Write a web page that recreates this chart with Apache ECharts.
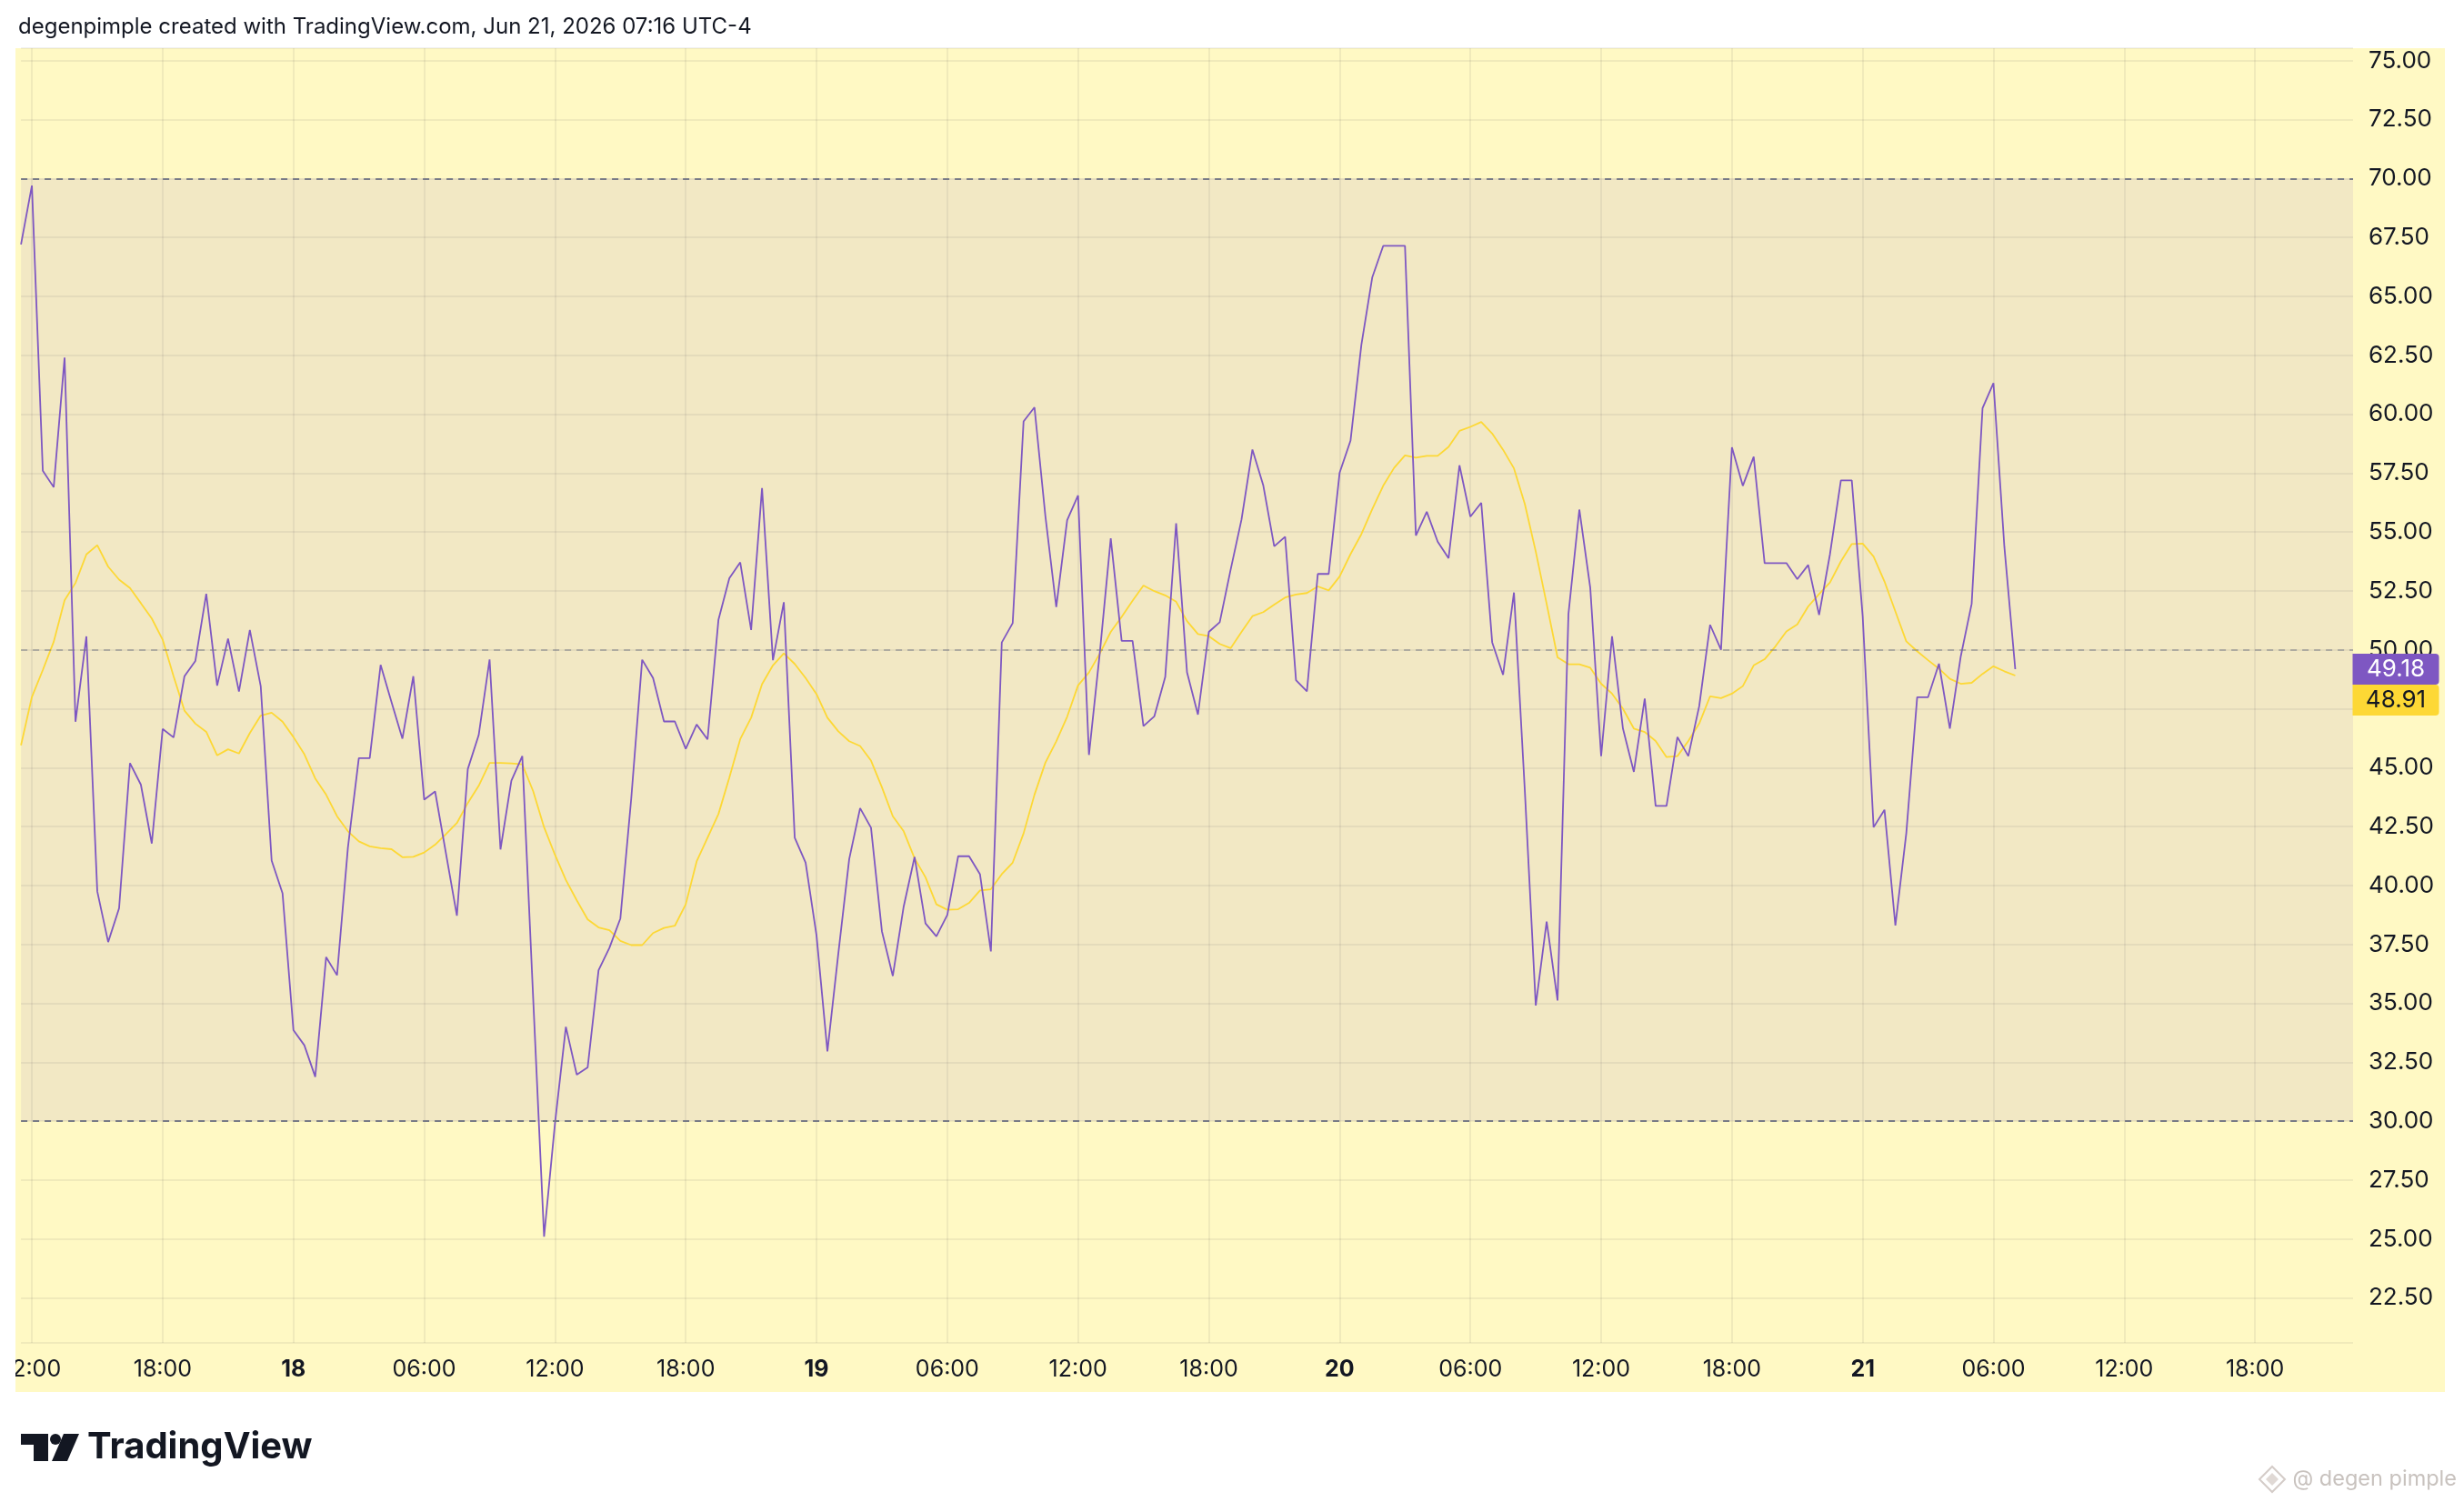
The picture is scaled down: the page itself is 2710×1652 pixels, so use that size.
<!DOCTYPE html>
<html>
<head>
<meta charset="utf-8">
<title>RSI 30m</title>
<script src="https://cdn.jsdelivr.net/npm/echarts@6/dist/echarts.min.js"></script>
<style>
  html, body { margin: 0; padding: 0; background: #fff; }
  #chart { width: 2710px; height: 1652px; }
</style>
</head>
<body>
<div id="chart"></div>
<script>
// 30 minute bars, first bar Jun 17 11:30
const startTime = Date.UTC(2026, 5, 17, 11, 30);
const slotCount = 215; // visible slots on the time scale (right side is empty space)

// RSI values, one per bar
const rsi = [
  67.2, 69.7, 57.6, 56.9, 62.4, 46.95, 50.57, 39.75, 37.6, 39.03,
  45.19, 44.28, 41.78, 46.64, 46.28, 48.88, 49.53, 52.38, 48.48, 50.47,
  48.23, 50.84, 48.45, 41.06, 39.67, 33.86, 33.22, 31.88, 36.96, 36.19,
  41.61, 45.4, 45.4, 49.36, 47.78, 46.23, 48.88, 43.64, 43.99, 41.35,
  38.72, 44.94, 46.38, 49.59, 41.53, 44.45, 45.49, 35.2, 25.1, 29.9,
  34.0, 31.97, 32.28, 36.4, 37.36, 38.6, 43.7, 49.58, 48.8, 46.96,
  46.96, 45.8, 46.83, 46.2, 51.27, 53.04, 53.71, 50.84, 56.86, 49.56,
  52.02, 42.03, 40.97, 37.88, 32.96, 37.11, 41.12, 43.28, 42.45, 38.06,
  36.16, 39.11, 41.21, 38.39, 37.84, 38.75, 41.24, 41.24, 40.48, 37.2,
  50.31, 51.13, 59.69, 60.29, 55.68, 51.82, 55.5, 56.55, 45.54, 49.89,
  54.73, 50.38, 50.38, 46.76, 47.18, 48.85, 55.37, 49.04, 47.25, 50.76,
  51.17, 53.4, 55.53, 58.5, 56.97, 54.39, 54.8, 48.71, 48.24, 53.22,
  53.22, 57.51, 58.87, 62.95, 65.81, 67.14, 67.14, 67.14, 54.85, 55.86,
  54.59, 53.89, 57.83, 55.65, 56.24, 50.32, 48.94, 52.43, 44.0, 34.91,
  38.47, 35.12, 51.52, 55.95, 52.64, 45.49, 50.57, 46.66, 44.82, 47.93,
  43.38, 43.38, 46.3, 45.49, 47.61, 51.06, 50.0, 58.59, 56.96, 58.19,
  53.68, 53.68, 53.68, 53.0, 53.6, 51.48, 54.06, 57.19, 57.19, 51.42,
  42.47, 43.21, 38.3, 42.21, 47.99, 47.99, 49.41, 46.66, 49.72, 51.95,
  60.26, 61.32, 54.38, 49.18
];

// RSI-based moving average, one per bar
const rsiMa = [
  45.95, 48.0, 49.14, 50.34, 52.1, 52.84, 54.05, 54.44, 53.53, 52.98,
  52.62, 51.98, 51.33, 50.43, 48.88, 47.42, 46.87, 46.52, 45.52, 45.78,
  45.6, 46.47, 47.21, 47.33, 46.95, 46.3, 45.57, 44.54, 43.85, 42.94,
  42.3, 41.87, 41.66, 41.58, 41.54, 41.2, 41.22, 41.4, 41.73, 42.18,
  42.65, 43.5, 44.23, 45.2, 45.2, 45.18, 45.14, 44.0, 42.47, 41.3,
  40.23, 39.37, 38.56, 38.22, 38.1, 37.65, 37.47, 37.47, 37.98, 38.2,
  38.29, 39.2, 41.02, 42.03, 43.03, 44.58, 46.21, 47.12, 48.54, 49.34,
  49.85, 49.4, 48.8, 48.12, 47.12, 46.54, 46.12, 45.92, 45.3, 44.17,
  42.94, 42.3, 41.15, 40.35, 39.2, 38.97, 38.99, 39.26, 39.79, 39.84,
  40.48, 40.97, 42.21, 43.85, 45.21, 46.12, 47.16, 48.49, 49.04, 49.85,
  50.76, 51.4, 52.08, 52.73, 52.49, 52.31, 52.04, 51.22, 50.67, 50.58,
  50.25, 50.07, 50.76, 51.43, 51.6, 51.92, 52.22, 52.35, 52.41, 52.69,
  52.52, 53.11, 54.06, 54.91, 55.97, 56.96, 57.72, 58.25, 58.15, 58.23,
  58.23, 58.61, 59.29, 59.46, 59.67, 59.18, 58.49, 57.7, 56.18, 54.17,
  51.95, 49.68, 49.39, 49.39, 49.24, 48.56, 48.14, 47.5, 46.66, 46.51,
  46.13, 45.45, 45.49, 46.13, 46.87, 48.03, 47.95, 48.14, 48.46, 49.34,
  49.6, 50.15, 50.78, 51.08, 51.84, 52.37, 52.86, 53.75, 54.49, 54.51,
  53.96, 52.9, 51.63, 50.36, 49.94, 49.56, 49.2, 48.77, 48.56, 48.6,
  48.98, 49.3, 49.09, 48.91
];

const bandLevels = [30, 70];
const midLevel = 50;

const pad = n => String(n).padStart(2, '0');
const timeLabels = [];
for (let i = 0; i < slotCount; i++) {
  const d = new Date(startTime + i * 30 * 60000);
  const h = d.getUTCHours(), m = d.getUTCMinutes();
  timeLabels.push(h === 0 && m === 0 ? String(d.getUTCDate()) : pad(h) + ':' + pad(m));
}
// a label / grid line every 6 hours: 12:00, 18:00, day, 06:00 ...
const isSixHour = idx => idx % 12 === 1;

const txt = '#131722';
const gridColor = 'rgba(42,46,57,0.07)';
const purple = '#7E57C2';
const yellow = '#FDD835';
const font = 'Inter';
// price tag on the scale: square left side, rounded right corners
const tagPath = 'path://M0,0 L91,0 Q95,0 95,4 L95,30 Q95,34 91,34 L0,34 Z';

const chart = echarts.init(document.getElementById('chart'));
const lastRsi = rsi[rsi.length - 1];
const lastMa = rsiMa[rsiMa.length - 1];

chart.setOption({
  animation: false,
  backgroundColor: '#ffffff',
  title: {
    text: 'degenpimple created with TradingView.com, Jun 21, 2026 07:16 UTC-4',
    left: 20, top: 18, padding: 0,
    textStyle: { fontFamily: font, fontSize: 24, fontWeight: 'normal', color: txt }
  },
  graphic: [
    // pane background, behind everything
    { type: 'rect', z: -10, silent: true, shape: { x: 17, y: 53, width: 2672, height: 1478 }, style: { fill: '#FFF9C4' } },
    // clip the first time label at the pane edge
    { type: 'rect', z: 100, silent: true, shape: { x: 0, y: 1480, width: 17, height: 60 }, style: { fill: '#ffffff' } },
    // TradingView logo
    { type: 'polygon', z: 100, silent: true, shape: { points: [[23, 1577], [53, 1577], [53, 1607], [37, 1607], [37, 1589], [23, 1589]] }, style: { fill: txt } },
    { type: 'circle', z: 100, silent: true, shape: { cx: 61, cy: 1583, r: 6 }, style: { fill: txt } },
    { type: 'polygon', z: 100, silent: true, shape: { points: [[70, 1577], [87, 1577], [74, 1607], [57, 1607]] }, style: { fill: txt } },
    { type: 'text', z: 100, silent: true, x: 96, y: 1592, style: { text: 'TradingView', fontFamily: font, fontWeight: 'bold', fontSize: 40, fill: txt, verticalAlign: 'middle' } },
    // watermark
    { type: 'polygon', z: 100, silent: true, shape: { points: [[2499, 1613], [2513, 1627], [2499, 1641], [2485, 1627]] }, style: { fill: 'none', stroke: '#d4ccc8', lineWidth: 2 } },
    { type: 'polygon', z: 100, silent: true, shape: { points: [[2499, 1620], [2506, 1627], [2499, 1634], [2492, 1627]] }, style: { fill: '#e0d9d5' } },
    { type: 'text', z: 100, silent: true, x: 2702, y: 1627, style: { text: '@ degen pimple', fontFamily: font, fontSize: 23.5, fill: '#c8c2be', align: 'right', verticalAlign: 'middle' } }
  ],
  grid: { left: 20, right: 122, top: 53, bottom: 175 },
  xAxis: {
    type: 'category',
    data: timeLabels,
    boundaryGap: false,
    axisLine: { show: false },
    axisTick: { show: false },
    axisLabel: {
      interval: isSixHour,
      margin: 17,
      color: txt,
      fontFamily: font,
      fontSize: 25,
      formatter: v => (v.length <= 2 ? '{day|' + v + '}' : v),
      rich: { day: { fontFamily: font, fontSize: 25, fontWeight: 'bold', color: txt } }
    },
    splitLine: { show: true, interval: isSixHour, lineStyle: { color: gridColor, width: 2 } }
  },
  yAxis: {
    type: 'value',
    position: 'right',
    min: 20.59,
    max: 75.53,
    splitNumber: 22,
    minInterval: 2.5,
    maxInterval: 2.5,
    axisLine: { show: false },
    axisTick: { show: false },
    axisLabel: {
      align: 'left',
      margin: 17,
      color: txt,
      fontFamily: font,
      fontSize: 26,
      showMinLabel: false,
      showMaxLabel: false,
      formatter: v => (Math.abs(v / 2.5 - Math.round(v / 2.5)) < 1e-6 ? v.toFixed(2) : '')
    },
    splitLine: { lineStyle: { color: gridColor, width: 2 } }
  },
  series: [
    {
      name: 'RSI',
      type: 'line',
      data: rsi,
      symbol: 'none',
      z: 4,
      lineStyle: { color: purple, width: 1.8 },
      itemStyle: { color: purple },
      markArea: {
        silent: true,
        itemStyle: { color: 'rgba(126,87,194,0.1)' },
        data: [[{ yAxis: bandLevels[0] }, { yAxis: bandLevels[1] }]]
      },
      markLine: {
        silent: true,
        symbol: 'none',
        label: { show: false },
        data: [
          { yAxis: bandLevels[1], lineStyle: { color: '#787B86', type: [7, 6], width: 2 } },
          { yAxis: midLevel, lineStyle: { color: 'rgba(120,123,134,0.5)', type: [7, 6], width: 2 } },
          { yAxis: bandLevels[0], lineStyle: { color: '#787B86', type: [7, 6], width: 2 } }
        ]
      },
      markPoint: {
        silent: true,
        symbol: tagPath,
        symbolKeepAspect: false,
        symbolSize: [95, 34],
        symbolOffset: [47, 0],
        itemStyle: { color: purple },
        label: { show: true, color: '#ffffff', fontFamily: font, fontSize: 26, formatter: p => p.value.toFixed(2) },
        data: [{ coord: [slotCount - 1, lastRsi], value: lastRsi }]
      }
    },
    {
      name: 'RSI-based MA',
      type: 'line',
      data: rsiMa,
      symbol: 'none',
      z: 3,
      lineStyle: { color: yellow, width: 1.8 },
      itemStyle: { color: yellow },
      markPoint: {
        silent: true,
        symbol: tagPath,
        symbolKeepAspect: false,
        symbolSize: [95, 34],
        symbolOffset: [47, 27],
        itemStyle: { color: yellow },
        label: { show: true, color: txt, fontFamily: font, fontSize: 26, formatter: p => p.value.toFixed(2) },
        data: [{ coord: [slotCount - 1, lastMa], value: lastMa }]
      }
    }
  ]
});
</script>
</body>
</html>
